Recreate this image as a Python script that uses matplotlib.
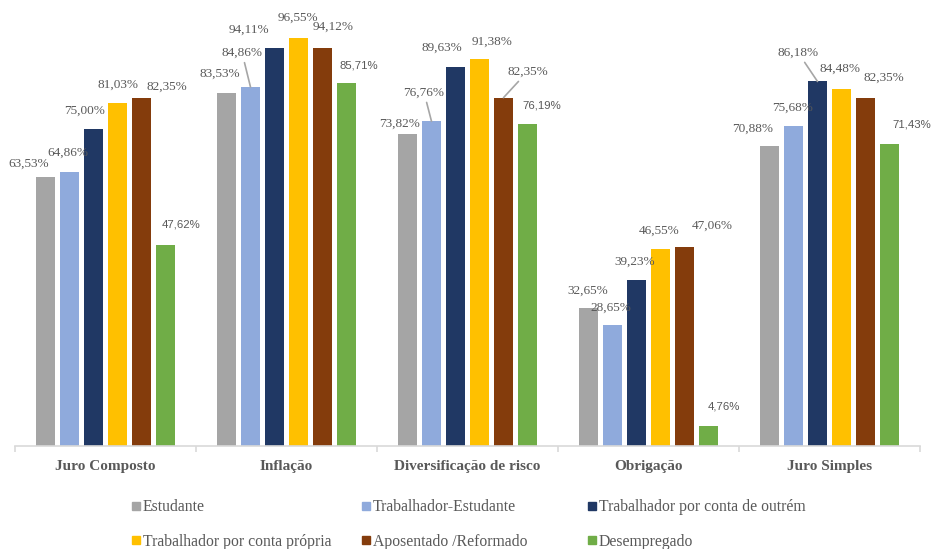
import matplotlib.pyplot as plt
from matplotlib.lines import Line2D
import numpy as np

# categories and series
categories = ['Juro Composto', 'Inflação', 'Diversificação de risco', 'Obrigação', 'Juro Simples']
series = ['Estudante', 'Trabalhador-Estudante', 'Trabalhador por conta de outrém',
          'Trabalhador por conta própria', 'Aposentado /Reformado', 'Desempregado']
colors = ['#A5A5A5', '#8FAADC', '#203864', '#FFC000', '#843C0C', '#70AD47']

estudante = [63.53, 83.53, 73.82, 32.65, 70.88]
trab_estudante = [64.86, 84.86, 76.76, 28.65, 75.68]
trab_outrem = [75.00, 94.11, 89.63, 39.23, 86.18]
trab_propria = [81.03, 96.55, 91.38, 46.55, 84.48]
aposentado = [82.35, 94.12, 82.35, 47.06, 82.35]
desempregado = [47.62, 85.71, 76.19, 4.76, 71.43]
values = [estudante, trab_estudante, trab_outrem, trab_propria, aposentado, desempregado]

# label offsets in pixels (dx, dy) from each bar top, per series then per category
label_offsets = [
    [(-17, 14), (-6.5, 19), (-8, 10.5), (-0.5, 17.5), (-16.5, 17)],
    [(-1.5, 19), (-8.5, 34.5), (-7.5, 29), (-1.5, 17), (-0.5, 18)],
    [(-9, 18), (-25.5, 18), (-13.5, 19), (-1.5, 18), (-19.5, 29)],
    [(0, 19), (-0.5, 19.5), (12.5, 18), (-1, 18), (-1, 19.5)],
    [(25.5, 10.5), (10.5, 21.5), (24, 26), (28, 21), (18, 19.5)],
    [(15.5, 20), (12, 18), (14, 18), (15.5, 19), (22, 19.5)],
]
# labels that get a leader line (series index, category index)
leaders = {(1, 1), (1, 2), (4, 2), (2, 4)}

W, H = 931, 549
fig = plt.figure(figsize=(W / 100, H / 100), dpi=100)
ax = fig.add_axes([15 / W, (H - 446) / H, 905 / W, 423 / H])

x = np.arange(len(categories))
pitch = 24 / 181
width = 19.5 / 181
txt_col = '#595959'

for i, (vals, col) in enumerate(zip(values, colors)):
    xs = x + (i - 2.5) * pitch
    ax.bar(xs, vals, width=width, color=col, zorder=2)
    for j, (xx, v) in enumerate(zip(xs, vals)):
        dx, dy = label_offsets[i][j]
        lab = f'{v:.2f}%'.replace('.', ',')
        if i == 5:
            font = dict(family='Liberation Sans', fontsize=8.2)
        else:
            font = dict(family='Liberation Serif', fontsize=9.5)
        arrow = None
        if (i, j) in leaders:
            arrow = dict(arrowstyle='-', color='#A6A6A6', lw=1.2, shrinkA=1, shrinkB=0)
        ax.annotate(lab, xy=(xx, v), xytext=(dx, dy), textcoords='offset pixels',
                    ha='center', va='center', color=txt_col, arrowprops=arrow,
                    zorder=3, **font)

ax.set_xlim(-0.5, len(categories) - 0.5)
ax.set_ylim(0, 100)
for s in ['top', 'right', 'left']:
    ax.spines[s].set_visible(False)
ax.spines['bottom'].set_color('#D9D9D9')
ax.spines['bottom'].set_linewidth(1.2)
ax.set_yticks([])

ax.set_xticks(np.arange(len(categories) + 1) - 0.5)
ax.set_xticklabels([])
ax.tick_params(axis='x', which='major', length=4, color='#D9D9D9', width=1.2)
ax.set_xticks(x, minor=True)
ax.set_xticklabels(categories, minor=True, family='Liberation Serif', fontsize=11,
                   fontweight='bold', color=txt_col)
ax.tick_params(axis='x', which='minor', length=0, pad=10)

# legend: three columns of two entries, evenly spaced
handles = [Line2D([], [], marker='s', linestyle='none', markersize=5.8,
                  markerfacecolor=c, markeredgecolor=c) for c in colors]
col_x = [131, 361, 587]
for k, cx in enumerate(col_x):
    idx = [k, k + 3]
    leg = fig.legend([handles[n] for n in idx], [series[n] for n in idx],
                     loc='upper left', bbox_to_anchor=(cx / W, 1 - 499 / H),
                     frameon=False, handlelength=0.6, handletextpad=0.15,
                     labelspacing=1.2, borderpad=0, borderaxespad=0,
                     prop=dict(family='Liberation Serif', size=11.3))
    for t in leg.get_texts():
        t.set_color(txt_col)

fig.savefig('out.png', dpi=100)
